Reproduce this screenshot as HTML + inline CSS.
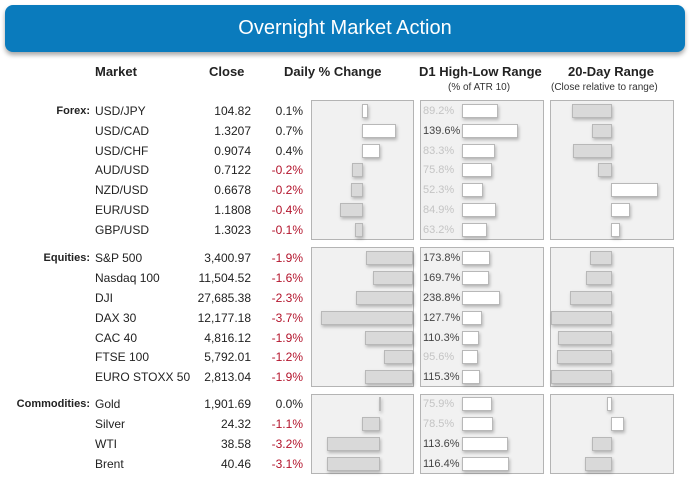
<!DOCTYPE html>
<html><head><meta charset="utf-8"><style>
body{margin:0;width:692px;height:483px;background:#fff;position:relative;font-family:"Liberation Sans",sans-serif;overflow:hidden}
.hdr{position:absolute;left:5px;top:5px;width:680px;height:47px;background:#0a7bbd;border-radius:8px;box-shadow:0 3px 5px rgba(0,0,0,.35);color:#fff;font-size:20px;text-align:center;line-height:46px}
.h{position:absolute;font-size:13px;font-weight:bold;color:#222;top:64px}
.s{position:absolute;font-size:10px;color:#333;top:82px}
.t{position:absolute;font-size:12px;line-height:20px;height:20px;color:#222;white-space:nowrap}
.r{text-align:right}
.neg{color:#b3142c}
.cat{font-weight:bold;font-size:11px}
.p{position:absolute;background:#f1f1f1;border:1px solid #b4b4b4;box-sizing:border-box}
.b{position:absolute;height:14px;box-sizing:border-box;border:1px solid #b8b8b8;background:#d9d9d9;box-shadow:1px 2px 3px rgba(0,0,0,.25)}
.w{background:#fff}
.a{position:absolute;font-size:11px;line-height:20px;color:#c4c4c4;left:423px}
.d{color:#444}
</style></head><body>
<div class="hdr">Overnight Market Action</div>
<div class="h" style="left:95px">Market</div>
<div class="h" style="left:209px">Close</div>
<div class="h" style="left:284px">Daily % Change</div>
<div class="h" style="left:419px">D1 High-Low Range</div>
<div class="h" style="left:568px">20-Day Range</div>
<div class="s" style="left:448px">(% of ATR 10)</div>
<div class="s" style="left:551px">(Close relative to range)</div>

<div class="p" style="left:311px;top:100px;width:103px;height:140px"></div>
<div class="p" style="left:420px;top:100px;width:124px;height:140px"></div>
<div class="p" style="left:550px;top:100px;width:124px;height:140px"></div>
<div class="p" style="left:311px;top:247px;width:103px;height:140px"></div>
<div class="p" style="left:420px;top:247px;width:124px;height:140px"></div>
<div class="p" style="left:550px;top:247px;width:124px;height:140px"></div>
<div class="p" style="left:311px;top:394px;width:103px;height:80px"></div>
<div class="p" style="left:420px;top:394px;width:124px;height:80px"></div>
<div class="p" style="left:550px;top:394px;width:124px;height:80px"></div>

<div class="t cat r" style="left:0;width:90px;top:101px">Forex:</div>
<div class="t cat r" style="left:0;width:90px;top:248px">Equities:</div>
<div class="t cat r" style="left:0;width:90px;top:394px">Commodities:</div>

<div class="t" style="left:95px;top:101px">USD/JPY</div><div class="t r" style="left:180px;width:71px;top:101px">104.82</div><div class="t r" style="left:250px;width:53px;top:101px">0.1%</div>
<div class="t" style="left:95px;top:121px">USD/CAD</div><div class="t r" style="left:180px;width:71px;top:121px">1.3207</div><div class="t r" style="left:250px;width:53px;top:121px">0.7%</div>
<div class="t" style="left:95px;top:141px">USD/CHF</div><div class="t r" style="left:180px;width:71px;top:141px">0.9074</div><div class="t r" style="left:250px;width:53px;top:141px">0.4%</div>
<div class="t" style="left:95px;top:160px">AUD/USD</div><div class="t r" style="left:180px;width:71px;top:160px">0.7122</div><div class="t r neg" style="left:250px;width:53px;top:160px">-0.2%</div>
<div class="t" style="left:95px;top:180px">NZD/USD</div><div class="t r" style="left:180px;width:71px;top:180px">0.6678</div><div class="t r neg" style="left:250px;width:53px;top:180px">-0.2%</div>
<div class="t" style="left:95px;top:200px">EUR/USD</div><div class="t r" style="left:180px;width:71px;top:200px">1.1808</div><div class="t r neg" style="left:250px;width:53px;top:200px">-0.4%</div>
<div class="t" style="left:95px;top:220px">GBP/USD</div><div class="t r" style="left:180px;width:71px;top:220px">1.3023</div><div class="t r neg" style="left:250px;width:53px;top:220px">-0.1%</div>

<div class="b w" style="left:362px;width:6px;top:104px"></div>
<div class="b w" style="left:362px;width:34px;top:124px"></div>
<div class="b w" style="left:362px;width:18px;top:144px"></div>
<div class="b" style="left:352px;width:11px;top:163px"></div>
<div class="b" style="left:351px;width:12px;top:183px"></div>
<div class="b" style="left:340px;width:23px;top:203px"></div>
<div class="b" style="left:355px;width:8px;top:223px"></div>

<div class="a" style="top:101px">89.2%</div><div class="b w" style="left:462px;width:36px;top:104px"></div>
<div class="a d" style="top:121px">139.6%</div><div class="b w" style="left:462px;width:56px;top:124px"></div>
<div class="a" style="top:141px">83.3%</div><div class="b w" style="left:462px;width:33px;top:144px"></div>
<div class="a" style="top:160px">75.8%</div><div class="b w" style="left:462px;width:30px;top:163px"></div>
<div class="a" style="top:180px">52.3%</div><div class="b w" style="left:462px;width:21px;top:183px"></div>
<div class="a" style="top:200px">84.9%</div><div class="b w" style="left:462px;width:34px;top:203px"></div>
<div class="a" style="top:220px">63.2%</div><div class="b w" style="left:462px;width:25px;top:223px"></div>

<div class="b" style="left:572px;width:40px;top:104px"></div>
<div class="b" style="left:592px;width:20px;top:124px"></div>
<div class="b" style="left:573px;width:39px;top:144px"></div>
<div class="b" style="left:598px;width:14px;top:163px"></div>
<div class="b w" style="left:611px;width:47px;top:183px"></div>
<div class="b w" style="left:611px;width:19px;top:203px"></div>
<div class="b w" style="left:611px;width:9px;top:223px"></div>

<div class="t" style="left:95px;top:248px">S&amp;P 500</div><div class="t r" style="left:180px;width:71px;top:248px">3,400.97</div><div class="t r neg" style="left:250px;width:53px;top:248px">-1.9%</div>
<div class="t" style="left:95px;top:268px">Nasdaq 100</div><div class="t r" style="left:180px;width:71px;top:268px">11,504.52</div><div class="t r neg" style="left:250px;width:53px;top:268px">-1.6%</div>
<div class="t" style="left:95px;top:288px">DJI</div><div class="t r" style="left:180px;width:71px;top:288px">27,685.38</div><div class="t r neg" style="left:250px;width:53px;top:288px">-2.3%</div>
<div class="t" style="left:95px;top:308px">DAX 30</div><div class="t r" style="left:180px;width:71px;top:308px">12,177.18</div><div class="t r neg" style="left:250px;width:53px;top:308px">-3.7%</div>
<div class="t" style="left:95px;top:328px">CAC 40</div><div class="t r" style="left:180px;width:71px;top:328px">4,816.12</div><div class="t r neg" style="left:250px;width:53px;top:328px">-1.9%</div>
<div class="t" style="left:95px;top:347px">FTSE 100</div><div class="t r" style="left:180px;width:71px;top:347px">5,792.01</div><div class="t r neg" style="left:250px;width:53px;top:347px">-1.2%</div>
<div class="t" style="left:95px;top:367px">EURO STOXX 50</div><div class="t r" style="left:180px;width:71px;top:367px">2,813.04</div><div class="t r neg" style="left:250px;width:53px;top:367px">-1.9%</div>

<div class="b" style="left:366px;width:47px;top:251px"></div>
<div class="b" style="left:373px;width:40px;top:271px"></div>
<div class="b" style="left:356px;width:57px;top:291px"></div>
<div class="b" style="left:321px;width:92px;top:311px"></div>
<div class="b" style="left:365px;width:48px;top:331px"></div>
<div class="b" style="left:384px;width:29px;top:350px"></div>
<div class="b" style="left:365px;width:48px;top:370px"></div>

<div class="a d" style="top:248px">173.8%</div><div class="b w" style="left:462px;width:28px;top:251px"></div>
<div class="a d" style="top:268px">169.7%</div><div class="b w" style="left:462px;width:27px;top:271px"></div>
<div class="a d" style="top:288px">238.8%</div><div class="b w" style="left:462px;width:38px;top:291px"></div>
<div class="a d" style="top:308px">127.7%</div><div class="b w" style="left:462px;width:20px;top:311px"></div>
<div class="a d" style="top:328px">110.3%</div><div class="b w" style="left:462px;width:17px;top:331px"></div>
<div class="a" style="top:347px">95.6%</div><div class="b w" style="left:462px;width:16px;top:350px"></div>
<div class="a d" style="top:367px">115.3%</div><div class="b w" style="left:462px;width:18px;top:370px"></div>

<div class="b" style="left:590px;width:22px;top:251px"></div>
<div class="b" style="left:586px;width:26px;top:271px"></div>
<div class="b" style="left:570px;width:42px;top:291px"></div>
<div class="b" style="left:551px;width:61px;top:311px"></div>
<div class="b" style="left:558px;width:54px;top:331px"></div>
<div class="b" style="left:557px;width:55px;top:350px"></div>
<div class="b" style="left:551px;width:61px;top:370px"></div>

<div class="t" style="left:95px;top:394px">Gold</div><div class="t r" style="left:180px;width:71px;top:394px">1,901.69</div><div class="t r" style="left:250px;width:53px;top:394px">0.0%</div>
<div class="t" style="left:95px;top:414px">Silver</div><div class="t r" style="left:180px;width:71px;top:414px">24.32</div><div class="t r neg" style="left:250px;width:53px;top:414px">-1.1%</div>
<div class="t" style="left:95px;top:434px">WTI</div><div class="t r" style="left:180px;width:71px;top:434px">38.58</div><div class="t r neg" style="left:250px;width:53px;top:434px">-3.2%</div>
<div class="t" style="left:95px;top:454px">Brent</div><div class="t r" style="left:180px;width:71px;top:454px">40.46</div><div class="t r neg" style="left:250px;width:53px;top:454px">-3.1%</div>

<div class="b" style="left:379px;width:2px;top:397px;border:none;background:#bbb"></div>
<div class="b" style="left:362px;width:18px;top:417px"></div>
<div class="b" style="left:327px;width:53px;top:437px"></div>
<div class="b" style="left:327px;width:53px;top:457px"></div>

<div class="a" style="top:394px">75.9%</div><div class="b w" style="left:462px;width:30px;top:397px"></div>
<div class="a" style="top:414px">78.5%</div><div class="b w" style="left:462px;width:31px;top:417px"></div>
<div class="a d" style="top:434px">113.6%</div><div class="b w" style="left:462px;width:46px;top:437px"></div>
<div class="a d" style="top:454px">116.4%</div><div class="b w" style="left:462px;width:47px;top:457px"></div>

<div class="b w" style="left:607px;width:5px;top:397px"></div>
<div class="b w" style="left:611px;width:13px;top:417px"></div>
<div class="b" style="left:592px;width:20px;top:437px"></div>
<div class="b" style="left:585px;width:27px;top:457px"></div>
</body></html>
